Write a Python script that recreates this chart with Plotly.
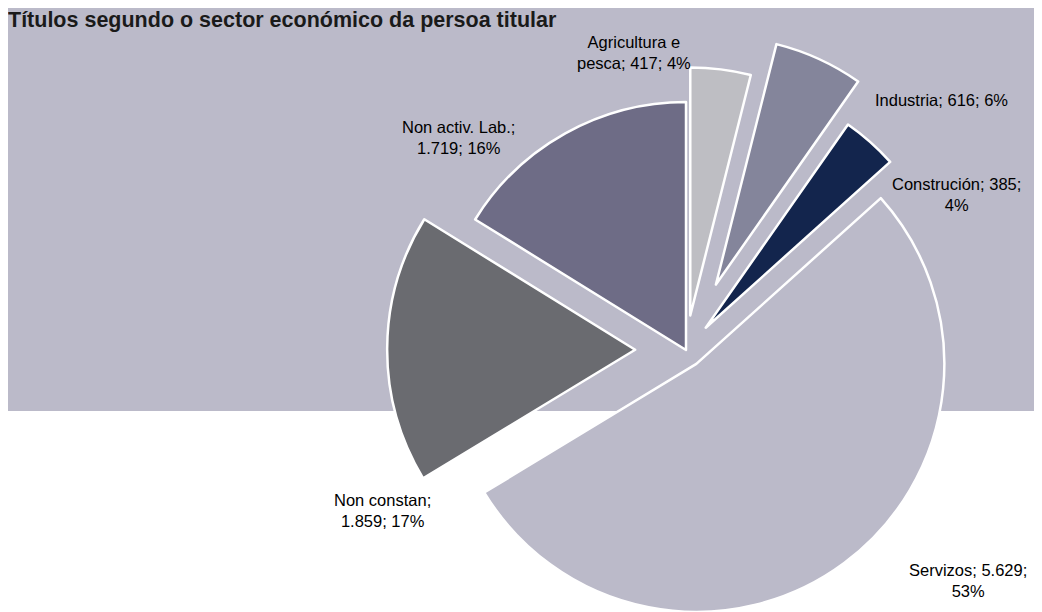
import math
import plotly.graph_objects as go

# ---- data ----
categories = ["Agricultura e pesca", "Industria", "Construción", "Servizos", "Non constan", "Non activ. Lab."]
label_names = ["Agricultura e<br>pesca", "Industria", "Construción", "Servizos", "Non constan", "Non activ. Lab."]
values = [417, 616, 385, 5629, 1859, 1719]
title_text = "Títulos segundo o sector económico da persoa titular"

# ---- style / layout (figure pixels; page body has an 8px margin) ----
colors = ["#BEBEC3", "#84859B", "#13254D", "#BBBAC9", "#6A6B70", "#6E6C86"]
explode = [0.14, 0.29, 0.12, 0.07, 0.205, 0.0]          # fraction of radius
label_break = ["none", "none", "after_value", "after_value", "after_name", "after_name"]
OFF = 8
label_pos = [(634, 53), (941, 100), (956, 194), (968, 580), (382, 510), (458, 137)]  # screen px centres
bg_color = "#BBBAC9"
W, H = 1034, 604
CX, CY, R = 686 - OFF, 350 - OFF, 248
FONT = "Liberation Sans, Arial, sans-serif"

total = sum(values)


def fmt_num(v):
    return f"{v:,}".replace(",", ".")


fig = go.Figure()
cum = 0.0
for i, v in enumerate(values):
    frac = v / total
    mid = (cum + frac / 2) * 2 * math.pi
    cum += frac
    cx = CX + explode[i] * R * math.sin(mid)
    cy = CY - explode[i] * R * math.cos(mid)
    dx = [max(0.0, (cx - R) / W), min(1.0, (cx + R) / W)]
    dy = [max(0.0, 1 - (cy + R) / H), min(1.0, 1 - (cy - R) / H)]
    mcols = [colors[i] if j == i else "rgba(0,0,0,0)" for j in range(len(values))]
    lcols = ["white" if j == i else "rgba(0,0,0,0)" for j in range(len(values))]
    fig.add_trace(go.Pie(
        labels=categories, values=values, sort=False, direction="clockwise", rotation=0,
        marker=dict(colors=mcols, line=dict(color=lcols, width=2.5)),
        textinfo="none", hoverinfo="label+value+percent", showlegend=False,
        domain=dict(x=dx, y=dy),
    ))

    pct = round(100 * v / total)
    name = label_names[i]
    if label_break[i] == "after_value":
        txt = f"{name}; {fmt_num(v)};<br>{pct}%"
    elif label_break[i] == "after_name":
        txt = f"{name};<br>{fmt_num(v)}; {pct}%"
    else:
        txt = f"{name}; {fmt_num(v)}; {pct}%"
    px_, py_ = label_pos[i]
    fig.add_annotation(
        x=(px_ - OFF) / W, y=1 - (py_ - OFF) / H, xref="paper", yref="paper",
        text=txt, showarrow=False, xanchor="center", yanchor="middle", align="center",
        font=dict(family=FONT, size=16.5, color="#000000"),
    )

fig.add_shape(type="rect", xref="paper", yref="paper",
              x0=0, x1=1, y0=1 - (411 - OFF) / H, y1=1,
              fillcolor=bg_color, line=dict(width=0), layer="below")

fig.update_layout(
    width=W, height=H,
    margin=dict(l=0, r=0, t=0, b=0),
    paper_bgcolor="white", plot_bgcolor="white",
    title=dict(text=f"<b>{title_text}</b>", x=0, xanchor="left", xref="paper",
               y=1, yanchor="top", yref="container", pad=dict(t=4, l=0),
               font=dict(family=FONT, size=21.5, color="#1A1A1A")),
)

fig.write_html("out.html")
